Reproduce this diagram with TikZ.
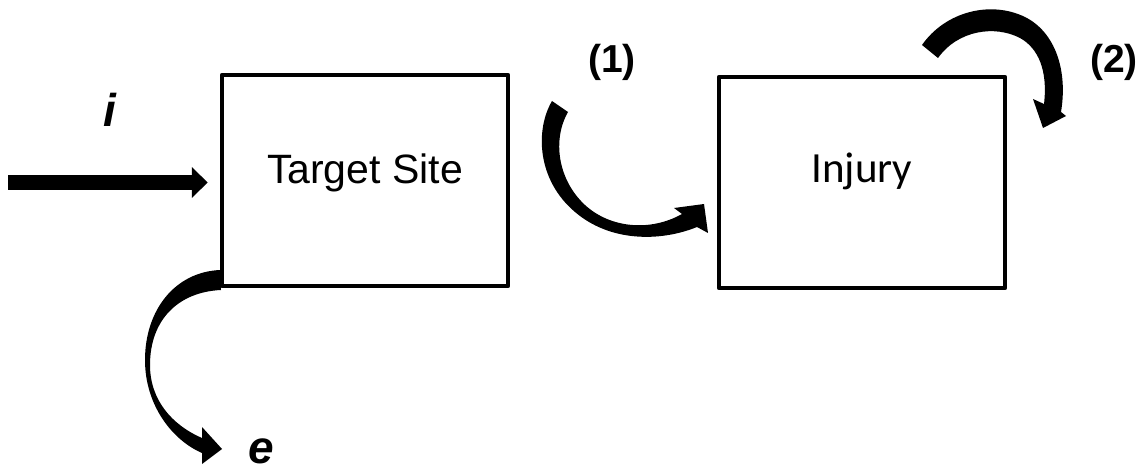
\documentclass[tikz,border=0pt]{standalone}
\usepackage{fontspec}
\setmainfont{Liberation Sans}
\newfontfamily\calfont{Carlito}
\usetikzlibrary{arrows.meta}
\begin{document}
\begin{tikzpicture}[x=1pt,y=-1pt,
  box/.style={draw, line width=4.5pt, minimum width=286pt, minimum height=211pt, inner sep=0pt, line join=round},
  bent/.style={fill=black, draw=none},
  lbl/.style={font=\bfseries\fontsize{39}{44}\selectfont, anchor=base},
  var/.style={font=\bfseries\itshape\fontsize{46}{50}\selectfont, anchor=base, inner sep=0pt, text depth=0pt}]
\useasboundingbox (0,0) rectangle (1143,473);
\node[box, font=\fontsize{41}{48}\selectfont, text height=30pt, text depth=23pt] (ts) at (365,180.5) {Target Site};
\node[box, font=\calfont\fontsize{43}{50}\selectfont, text height=29pt, text depth=29pt] (inj) at (862,182.5) {Injury};
% input arrow
\coordinate (iin) at (8,182.5);
\draw[line width=15pt, -{Triangle[length=16pt,width=30pt]}] (iin) -- ([xshift=-12pt]iin -| ts.west);
% excretion arrow
\fill[bent] (220,270) .. controls (175,272) and (145,310) .. (145,360) .. controls (145,405) and (172,440) .. (202,453) -- (202,464) -- (222,449) -- (202,427) -- (202,438) .. controls (172,425) and (150,400) .. (150,365) .. controls (150,320) and (178,292) .. (221,290) -- cycle;
% arrow (1)
\fill[bent] (552,101) .. controls (535,130) and (537,180) .. (575,212) .. controls (610,242) and (660,242) .. (697,227) -- (708,233) -- (704,204) -- (674,208) -- (682,214) .. controls (650,232) and (610,228) .. (585,205) .. controls (558,180) and (552,140) .. (568,112) -- cycle;
% arrow (2)
\fill[bent] (922,45) .. controls (945,12) and (990,0) .. (1025,17) .. controls (1055,32) and (1068,70) .. (1061,112) -- (1066,116) -- (1043,128) -- (1033,99) -- (1044,104) .. controls (1048,70) and (1038,48) .. (1020,38) .. controls (995,25) and (958,30) .. (938,58) -- cycle;
% labels
\node[lbl] (l1) at (612,73) {(1)};
\node[lbl] (l2) at (1114,73) {(2)};
\node[var] (li) at (110,127) {i};
\node[var] (le) at (261,463) {e};
\end{tikzpicture}
\end{document}
